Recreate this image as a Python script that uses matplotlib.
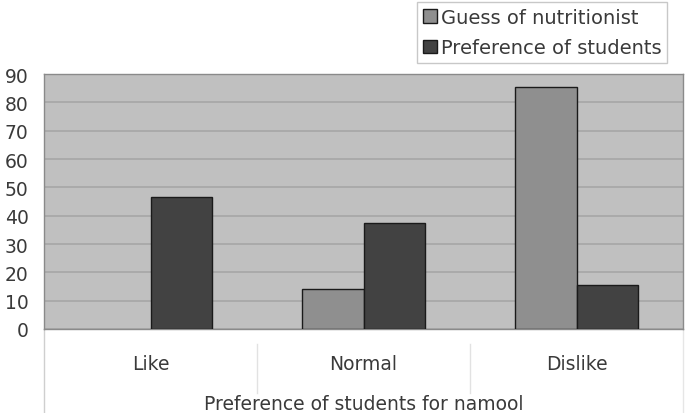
import matplotlib.pyplot as plt
from matplotlib.patches import Patch
import numpy as np

categories = ['Like', 'Normal', 'Dislike']
guess = [0, 14, 85.5]
preference = [46.5, 37.5, 15.5]
yticks = [0, 10, 20, 30, 40, 50, 60, 70, 80, 90]
series = ['Guess of nutritionist', 'Preference of students']
colors = ['#8f8f8f', '#424242']

plt.rcParams['font.family'] = ['DejaVu Sans']

fig = plt.figure(figsize=(6.9, 4.14), dpi=100)
ax = fig.add_axes([0.0638, 0.2029, 0.9261, 0.6159])
ax.set_facecolor('#c0c0c0')

x = np.arange(len(categories))
w = 0.29
b1 = ax.bar(x - w / 2, guess, w, color=colors[0], edgecolor='#1a1a1a', linewidth=1, zorder=3)
b2 = ax.bar(x + w / 2, preference, w, color=colors[1], edgecolor='#1a1a1a', linewidth=1, zorder=3)
for p in list(b1) + list(b2):
    if p.get_height() == 0:
        p.set_visible(False)

ax.set_xlim(-0.5, 2.5)
ax.set_ylim(0, 90)
ax.set_yticks(yticks)
ax.yaxis.grid(True, color='#a6a6a6', linewidth=1.2, zorder=0)
ax.tick_params(axis='y', length=0, pad=11, labelsize=13.5, labelcolor='#3a3a3a')
ax.set_xticks(x)
ax.set_xticklabels(categories)
ax.tick_params(axis='x', length=0, pad=18, labelsize=13.5, labelcolor='#3a3a3a')
ax.set_xlabel('Preference of students for namool', fontsize=13.5, color='#3a3a3a', labelpad=15)

for s in ax.spines.values():
    s.set_color('#8a8a8a')
    s.set_linewidth(1)

# category separators below the plot area
trans = ax.get_xaxis_transform()
for xv in [0.5, 1.5]:
    ax.plot([xv, xv], [-0.06, -0.25], transform=trans, color='#e2e2e2', lw=1, clip_on=False)
ax.plot([-0.5, -0.5], [0, -0.35], transform=trans, color='#cfcfcf', lw=1, clip_on=False)
ax.plot([2.5, 2.5], [0, -0.35], transform=trans, color='#e6e6e6', lw=1, clip_on=False)

handles = [Patch(facecolor=c, edgecolor='#1a1a1a', linewidth=1, label=s)
           for c, s in zip(colors, series)]
leg = fig.legend(handles=handles, loc='upper left', bbox_to_anchor=(0.605, 0.993),
                 fontsize=14, frameon=True, fancybox=False, edgecolor='#bbbbbb',
                 handlelength=0.7, handleheight=0.7, handletextpad=0.2, borderpad=0.3,
                 labelspacing=0.6, borderaxespad=0, labelcolor='#3a3a3a')
leg.get_frame().set_linewidth(1)

fig.savefig('out.png', dpi=100)
